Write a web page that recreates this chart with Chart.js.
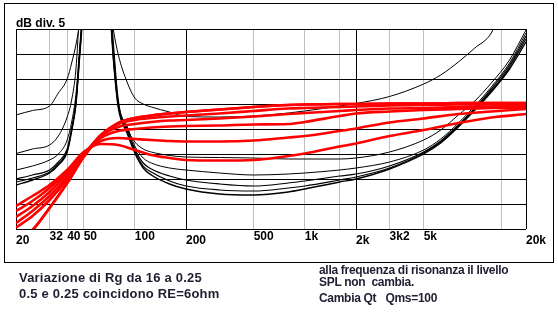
<!DOCTYPE html>
<html>
<head>
<meta charset="utf-8">
<script src="https://cdn.jsdelivr.net/npm/chart.js@4.4.1/dist/chart.umd.min.js"></script>
<style>
  html, body { margin: 0; padding: 0; background: #fff; }
  body { width: 558px; height: 327px; position: relative; overflow: hidden; }
  #frame { position: absolute; left: 4px; top: 3px; width: 550px; height: 260px; border: 1px solid #000; box-sizing: border-box; }
  canvas { position: absolute; left: 0; top: 0; }
  .t { position: absolute; white-space: pre; font-family: "Liberation Sans", Arial, sans-serif; font-weight: bold; color: #1e1e30; }
  .l { font-size: 13px; line-height: 16px; letter-spacing: 0.2px; }
  .r { font-size: 12px; line-height: 14px; letter-spacing: -0.3px; }
  #unit { left: 16px; top: 16px; font-size: 12px; line-height: 14px; color: #000; }
</style>
</head>
<body>
<div id="frame"></div>
<canvas id="c" width="558" height="327" style="width:558px;height:327px"></canvas>
<div class="t" id="unit">dB div. 5</div>
<div class="t l" style="left:19px; top:269.5px">Variazione di Rg da 16 a 0.25</div>
<div class="t l" style="left:19px; top:285.5px">0.5 e 0.25 coincidono RE=6ohm</div>
<div class="t r" style="left:319px; top:263px">alla frequenza di risonanza il livello</div>
<div class="t r" style="left:319px; top:275px">SPL non  cambia.</div>
<div class="t r" style="left:319px; top:290.5px">Cambia Qt   Qms=100</div>
<script>
// ---- axis / tick data ----
const majorTickValues = [20, 200, 2000, 20000];
const majorTickLabels = ['20', '200', '2k', '20k'];
const minorTickValues = [31.5, 40, 50, 100, 500, 1000, 3150, 5000];
const minorTickLabels = ['32', '40', '50', '100', '500', '1k', '3k2', '5k'];
const gridOnlyValues = [1600, 14400];

// ---- black curves (thin) ----
const blackFreq = [20, 25, 31.5, 35.5, 40, 42.5, 45, 47.5, 50, 63, 71, 75, 80, 90, 100, 112, 125, 160, 200, 315, 500, 800, 1000, 1600, 2000, 3150, 5000, 6300, 8000, 10000, 12500, 16000, 20000];
const black1 = [22.8, 23.7, 24.6, 27.2, 30, 33.2, 36.8, 41.4, 48, 60, 45, 39.6, 34.8, 29.4, 26.2, 25, 24.4, 23.4, 22.5, 22.4, 22.6, 23.2, 23.6, 24.6, 25.1, 26.5, 29, 30.8, 33.4, 36.2, 39.2, 48, 52];
const black2 = [15.1, 16, 16.8, 18.6, 22.4, 25.8, 31.8, 44, 50, 60, 48, 36.8, 25.8, 20.2, 17.4, 16, 15.4, 14.7, 14.4, 14.3, 14.2, 14, 14, 14, 14.2, 15.4, 17.8, 19.8, 22.8, 25.6, 29.2, 33.8, 39.8];
const black3 = [11.8, 12.6, 13.8, 15, 17.8, 21.4, 26.8, 36.8, 46, 60, 47, 35.4, 25.2, 20.6, 16.6, 14.2, 13.2, 12.2, 11.8, 11.2, 10.8, 11, 11.2, 11.8, 12.2, 13.4, 15.8, 18, 21.2, 24.6, 28.4, 33.2, 39.2];
const black4 = [10, 10.8, 11.8, 13.4, 16, 20.2, 25.4, 35.8, 45, 60, 46, 34.2, 24.8, 20, 16, 13.2, 12, 10.6, 9.8, 9, 8.6, 9.2, 9.6, 10.6, 11, 12.6, 15.4, 17.6, 20.8, 24.2, 28, 32.8, 38.6];
const black5 = [9.4, 10.2, 11.4, 13, 15.6, 19.8, 25, 35.4, 45, 60, 46, 33.8, 24.6, 19.6, 15.6, 12.6, 11.4, 9.6, 8.6, 7.8, 7.6, 8.2, 8.6, 9.8, 10.4, 12.2, 15.2, 17.4, 20.6, 24, 27.6, 32.4, 38];
const black6 = [8.8, 9.8, 11.2, 12.8, 15.4, 19.6, 24.8, 35, 44, 60, 45, 33.4, 24.2, 19.2, 15.2, 12.2, 10.8, 9, 8, 7, 6.8, 7.4, 8, 9.4, 10, 12, 15, 17.2, 20.4, 23.8, 27.4, 32, 37.4];

// ---- red curves (SPL, Rg 16 ... 0.25) ----
const redFreq = [20, 25, 31.5, 40, 50, 63, 80, 100, 125, 160, 200, 315, 500, 800, 1000, 1600, 2000, 3150, 5000, 8000, 12500, 20000];
const splRg16  = [4.6, 6.6, 8.8, 11.8, 15.4, 17, 16.8, 15.8, 14.8, 14.2, 13.8, 13.7, 13.8, 14.6, 15.1, 16.5, 17.1, 18.6, 19.8, 21.2, 22.3, 23];
const splRg8   = [3.6, 5.6, 8.2, 11.4, 15.2, 17.6, 18.2, 18, 17.8, 17.6, 17.5, 17.5, 17.7, 18.3, 18.6, 19.6, 20.1, 21.3, 22.1, 23, 23.5, 24];
const splRg4   = [2.4, 4.6, 7.4, 11, 15, 18.2, 19.6, 20, 20.3, 20.5, 20.6, 20.7, 20.9, 21, 21.4, 22.6, 23.1, 23.5, 23.8, 24, 24.2, 24.3];
const splRg2   = [1.2, 3.6, 6.6, 10.4, 14.8, 18.6, 20.4, 21, 21.4, 21.7, 21.8, 22.1, 22.5, 23, 23.2, 23.6, 23.8, 24.1, 24.2, 24.4, 24.5, 24.6];
const splRg1   = [0.3, 2.6, 5.8, 9.9, 14.7, 18.8, 21, 21.8, 22.2, 22.5, 22.7, 23.1, 23.6, 24.1, 24.2, 24.4, 24.5, 24.7, 24.8, 24.9, 24.9, 25];
const splRg05  = [-2.4, -0.2, 4.2, 9.2, 14.4, 18.6, 21.2, 22.2, 22.7, 23.1, 23.4, 23.9, 24.4, 24.8, 24.9, 25, 25, 25.1, 25.1, 25.2, 25.2, 25.2];
const splRg025 = [-2.4, -0.2, 4.2, 9.2, 14.4, 18.6, 21.2, 22.2, 22.7, 23.1, 23.4, 23.9, 24.4, 24.8, 24.9, 25, 25, 25.1, 25.1, 25.2, 25.2, 25.2];

const pts = (xs, ys) => xs.map((x, i) => ({ x: x, y: ys[i] }));
const redSet = (ys) => ({ data: pts(redFreq, ys), borderColor: '#ff0000', borderWidth: 2.6 });
const blackSet = (ys, w) => ({ data: pts(blackFreq, ys), borderColor: '#000000', borderWidth: w });

const datasets = [
  redSet(splRg025), redSet(splRg05), redSet(splRg1), redSet(splRg2), redSet(splRg4), redSet(splRg8), redSet(splRg16),
  blackSet(black1, 1), blackSet(black2, 1), blackSet(black3, 1), blackSet(black4, 1.2), blackSet(black5, 1.2), blackSet(black6, 1.4)
];

const allGrid = majorTickValues.concat(minorTickValues, gridOnlyValues).sort((a, b) => a - b);
const tickFont = { family: '"Liberation Sans", Arial, sans-serif', size: 12, weight: 'bold' };

// Let both stacked x axes share the label band below the plot (so labels are not clipped).
const labelBand = {
  id: 'labelBand',
  afterLayout(chart) {
    ['x', 'xMajor'].forEach((id) => {
      const s = chart.scales[id];
      s.top = chart.chartArea.bottom;
      s.bottom = chart.height;
      s.height = s.bottom - s.top;
    });
  }
};

new Chart(document.getElementById('c').getContext('2d'), {
  type: 'line',
  data: { datasets: datasets },
  plugins: [labelBand],
  options: {
    responsive: false,
    animation: false,
    devicePixelRatio: 1,
    layout: { padding: { left: 16, top: 29, right: 32, bottom: 98 } },
    plugins: { legend: { display: false }, tooltip: { enabled: false } },
    elements: {
      point: { radius: 0 },
      line: { cubicInterpolationMode: 'monotone', fill: false, borderCapStyle: 'butt' }
    },
    scales: {
      x: {
        type: 'logarithmic', min: 20, max: 20000, position: 'bottom', weight: 0,
        afterBuildTicks: (s) => { s.ticks = allGrid.map(v => ({ value: v })); },
        afterFit: (s) => { s.height = 0; },
        ticks: {
          autoSkip: false, maxRotation: 0, minRotation: 0, align: 'start', padding: 0,
          color: '#000', font: tickFont,
          callback: (v) => { const i = minorTickValues.indexOf(v); return i >= 0 ? minorTickLabels[i] : ''; }
        },
        grid: {
          drawTicks: false, lineWidth: 1,
          color: (c) => (c.tick && majorTickValues.indexOf(c.tick.value) >= 0) ? '#000000' : '#c0c0c0'
        },
        border: { display: false }
      },
      xMajor: {
        type: 'logarithmic', min: 20, max: 20000, position: 'bottom', weight: 1, axis: 'x',
        afterBuildTicks: (s) => { s.ticks = majorTickValues.map(v => ({ value: v })); },
        afterFit: (s) => { s.height = 0; },
        ticks: {
          autoSkip: false, maxRotation: 0, minRotation: 0, align: 'start', padding: 4,
          color: '#000', font: tickFont,
          callback: (v) => { const i = majorTickValues.indexOf(v); return i >= 0 ? majorTickLabels[i] : ''; }
        },
        grid: { display: false, drawTicks: false },
        border: { display: false }
      },
      y: {
        type: 'linear', min: 0, max: 40,
        afterFit: (s) => { s.width = 0; },
        ticks: { stepSize: 5, display: false },
        grid: { color: '#000000', lineWidth: 1, drawTicks: false },
        border: { display: false }
      }
    }
  }
});
</script>
</body>
</html>
